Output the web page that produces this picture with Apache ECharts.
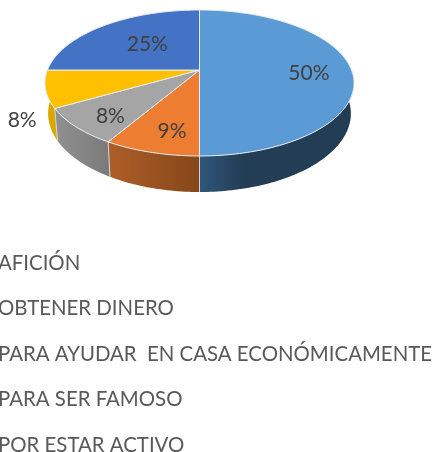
<!DOCTYPE html>
<html>
<head>
<meta charset="utf-8">
<style>html,body{margin:0;padding:0;background:#fff}#c{width:435px;height:452px}</style>
<script src="https://cdn.jsdelivr.net/npm/echarts@6/dist/echarts.min.js"></script>
</head>
<body>
<div id="c"></div>
<script>
// Data
const sliceNames = ['AFICIÓN', 'OBTENER DINERO', 'PARA AYUDAR  EN CASA ECONÓMICAMENTE', 'PARA SER FAMOSO', 'POR ESTAR ACTIVO'];
const sliceValues = [50, 8.5, 8.25, 8.25, 25];
// Styles
const faceColors = ['#5b9bd5', '#ed7d31', '#a5a5a5', '#ffc000', '#4472c4'];
const sideLeft  = ['#30557a', '#ae5e28', '#909090', '#dca600', '#2f4f88'];
const sideRight = ['#223d54', '#85471a', '#7a7a7a', '#dca600', '#2f4f88'];
const sideStop = [0.3, 1, 1, 1, 1];
const labelRadius = [0.72, 0.75, 0.7, 1.15, 0.7];
const labelShift = [[0, 3], [7, 3], [-6, 8], [1, 28], [17, 6]];

// Perspective projection of the pie disc
const CX = 199.5, CY = 70, RX = 152, RY = 70.7, K = 0.178;
const total = sliceValues.reduce((a, b) => a + b, 0);
const starts = sliceValues.map((_, i) => sliceValues.slice(0, i).reduce((a, b) => a + b, 0));
const toAngle = v => v / total * 2 * Math.PI;

function project(r, ang) {
  const u = r * Math.sin(ang), v = r * Math.cos(ang), w = 1 + K * v;
  return [CX + RX * u / w, CY - RY * v / w];
}
function lower(p) {
  return [CX + 0.98 * (p[0] - CX), p[1] + 36 - (156 - p[1]) * 0.074];
}
function arc(a0, a1) {
  const n = Math.max(2, Math.ceil(Math.abs(a1 - a0) / 0.02)), pts = [];
  for (let i = 0; i <= n; i++) pts.push(project(1, a0 + (a1 - a0) * i / n));
  return pts;
}

function renderSide(params) {
  const i = params.dataIndex;
  const start = toAngle(starts[i]);
  const a0 = Math.max(start, Math.PI / 2), a1 = Math.min(start + toAngle(sliceValues[i]), 3 * Math.PI / 2);
  if (a1 <= a0) return null;
  const top = arc(a0, a1);
  const bottom = top.map(lower).reverse();
  const fill = new echarts.graphic.LinearGradient(0, 0, 1, 0, [
    { offset: 0, color: sideLeft[i] },
    { offset: sideStop[i], color: sideRight[i] },
    { offset: 1, color: sideRight[i] }
  ]);
  const children = [{ type: 'polygon', shape: { points: top.concat(bottom) }, style: { fill: fill } }];
  if (start > Math.PI / 2 && start < 3 * Math.PI / 2) {
    const seamTop = project(1, start);
    children.push({
      type: 'polyline', z2: 5,
      shape: { points: [seamTop, lower(seamTop)] },
      style: { stroke: '#d4d4d4', lineWidth: 1, fill: null }
    });
  }
  return { type: 'group', children: children };
}

function renderFace(i) {
  return function () {
    const a0 = toAngle(starts[i]), a1 = a0 + toAngle(sliceValues[i]);
    const pts = [[CX, CY]].concat(arc(a0, a1));
    const lp = project(labelRadius[i], (a0 + a1) / 2);
    return {
      type: 'group',
      children: [
        { type: 'polygon', shape: { points: pts },
          style: { fill: faceColors[i], stroke: '#e6ecf4', lineWidth: 1, lineJoin: 'round' } },
        { type: 'text', z2: 10,
          style: {
            x: lp[0] + labelShift[i][0], y: lp[1] + labelShift[i][1],
            text: Math.round(sliceValues[i]) + '%',
            fill: '#404040', font: '21px Lato, Carlito, sans-serif',
            align: 'center', verticalAlign: 'middle'
          } }
      ]
    };
  };
}

const chart = echarts.init(document.getElementById('c'), null, { renderer: 'canvas' });
const series = [{
  type: 'custom', name: 'lateral', coordinateSystem: 'none', z: 1, silent: true,
  renderItem: renderSide, data: sliceValues.map(v => [v])
}];
sliceNames.forEach((name, i) => {
  series.push({
    type: 'custom', name: name, coordinateSystem: 'none', z: 2, silent: true,
    color: faceColors[i], renderItem: renderFace(i), data: [[sliceValues[i]]]
  });
});

chart.setOption({
  animation: false,
  backgroundColor: '#ffffff',
  legend: {
    data: sliceNames,
    orient: 'vertical',
    left: -14,
    top: 253,
    height: 400,
    padding: 0,
    itemWidth: 7,
    itemHeight: 7,
    itemGap: 25.5,
    selectedMode: false,
    textStyle: { color: '#595959', fontSize: 20.4, fontFamily: 'Lato, Carlito, sans-serif' }
  },
  series: series
});
</script>
</body>
</html>
